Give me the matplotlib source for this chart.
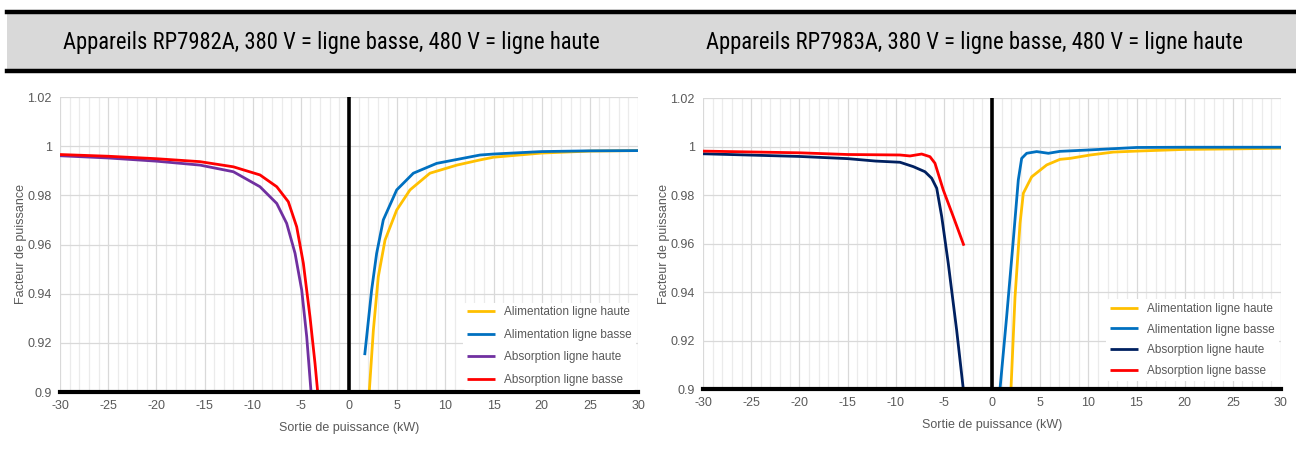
import numpy as np
from matplotlib import pyplot as plt
from matplotlib import font_manager
from matplotlib.patches import Rectangle
from matplotlib.lines import Line2D

# ---- data ----
titles = ["Appareils RP7982A, 380 V = ligne basse, 480 V = ligne haute",
          "Appareils RP7983A, 380 V = ligne basse, 480 V = ligne haute"]
labels = ["Alimentation ligne haute", "Alimentation ligne basse",
          "Absorption ligne haute", "Absorption ligne basse"]

# RP7982A
a_haute_x = [2.1, 2.53, 3.04, 3.74, 4.95, 6.33, 8.4, 11.2, 13.6, 15, 20, 25, 30]
a_haute_y = [0.900, 0.9252, 0.9469, 0.9618, 0.974, 0.9822, 0.9890, 0.9923, 0.9944, 0.9955, 0.9972, 0.9980, 0.9982]
a_basse_x = [1.63, 2.35, 2.87, 3.56, 4.95, 6.68, 9.1, 13.6, 15, 20, 25, 30]
a_basse_y = [0.9150, 0.9415, 0.9564, 0.9700, 0.9822, 0.9890, 0.9930, 0.9964, 0.9968, 0.9978, 0.9981, 0.9982]
b_haute_x = [-30, -25, -20, -15.47, -12.0, -9.24, -7.5, -6.47, -5.6, -4.91, -4.39, -3.94]
b_haute_y = [0.9961, 0.9952, 0.9939, 0.9923, 0.9896, 0.9835, 0.9767, 0.9686, 0.9564, 0.9415, 0.9225, 0.900]
b_basse_x = [-30, -25, -20, -15.47, -12.0, -9.24, -7.5, -6.3, -5.43, -4.74, -4.05, -3.53, -3.25]
b_basse_y = [0.9966, 0.9959, 0.9949, 0.9937, 0.9916, 0.9883, 0.9835, 0.9774, 0.9672, 0.9524, 0.9306, 0.9117, 0.900]

# RP7983A
c_haute_x = [1.97, 2.39, 2.91, 3.25, 4.12, 5.68, 7.06, 8.1, 10.2, 12.6, 15, 20, 25, 30]
c_haute_y = [0.900, 0.938, 0.9683, 0.9807, 0.9875, 0.9924, 0.9947, 0.9951, 0.9965, 0.9977, 0.9981, 0.9988, 0.9990, 0.9993]
c_basse_x = [0.83, 1.52, 2.21, 2.73, 3.08, 3.6, 4.64, 5.85, 7.06, 10.2, 15, 20, 30]
c_basse_y = [0.900, 0.9298, 0.9614, 0.9862, 0.9951, 0.9972, 0.9979, 0.9972, 0.9980, 0.9986, 0.9996, 0.9997, 0.9997]
d_haute_x = [-30, -20, -15, -12.1, -9.55, -8.17, -6.96, -6.26, -5.74, -5.22, -4.54, -3.67, -2.98]
d_haute_y = [0.9970, 0.9959, 0.9950, 0.9940, 0.9935, 0.9917, 0.9896, 0.9869, 0.9828, 0.9711, 0.9518, 0.9243, 0.900]
d_basse_x = [-30, -20, -15, -9.55, -8.51, -7.3, -6.44, -5.92, -5.06, -4.02, -2.91]
d_basse_y = [0.9981, 0.9974, 0.9967, 0.9965, 0.9961, 0.9969, 0.9958, 0.9931, 0.9821, 0.9711, 0.9591]

xticks = list(range(-30, 31, 5))
yticks = [0.9, 0.92, 0.94, 0.96, 0.98, 1.0, 1.02]
ytick_labels = ["0.9", "0.92", "0.94", "0.96", "0.98", "1", "1.02"]

yellow = "#FFC000"
blue = "#0070C0"
purple = "#7030A0"
red = "#FF0000"
navy = "#002060"
grey_txt = "#595959"

plt.rcParams['font.family'] = ['Liberation Sans', 'DejaVu Sans']
plt.rcParams['axes.unicode_minus'] = False

installed = {f.name for f in font_manager.fontManager.ttflist}
title_family = "DejaVu Sans"
for name in ["Liberation Sans Narrow", "DejaVu Sans Condensed", "Roboto Condensed", "Roboto"]:
    if name in installed:
        title_family = name
        break

fig = plt.figure(figsize=(12.96, 4.54), dpi=100)
W, H = 1296, 454

# header band
fig.patches.append(Rectangle((7 / W, 1 - 70 / H), 1 - 7 / W, 59 / H, transform=fig.transFigure,
                             facecolor="#D9D9D9", edgecolor="none", zorder=0))
for yy in (11.5, 70.5):
    fig.add_artist(Line2D([7 / W, 1], [1 - yy / H, 1 - yy / H], transform=fig.transFigure,
                          color="black", lw=3.2))

renderer = fig.canvas.get_renderer()
for cx, txt in [(331, titles[0]), (974, titles[1])]:
    t = fig.text(cx / W, 1 - 42 / H, txt, ha="center", va="center", fontsize=17,
                 family=[title_family, "DejaVu Sans"])
    w = t.get_window_extent(renderer).width
    t.set_fontsize(min(20, 17 * 538 / w))


def draw_panel(rect, series, leg_anchor, spacing):
    ax = fig.add_axes(rect)
    ax.set_xlim(-30, 30)
    ax.set_ylim(0.9, 1.02)
    for v in range(-30, 31):
        ax.axvline(v, color="#D9D9D9" if v % 5 == 0 else "#EBEBEB", lw=0.9, zorder=0)
    for v in yticks:
        ax.axhline(v, color="#D9D9D9", lw=0.9, zorder=0)
    for sp in ax.spines.values():
        sp.set_visible(False)
    for x, y, c, lab in series:
        ax.plot(x, y, color=c, lw=2, label=lab, solid_capstyle="butt", solid_joinstyle="round")
    ax.axvline(0, color="black", lw=2.6, zorder=3)
    ax.axhline(0.9, color="black", lw=3, zorder=3, clip_on=False)
    ax.set_xticks(xticks)
    ax.set_yticks(yticks)
    ax.set_yticklabels(ytick_labels)
    ax.tick_params(length=0, labelsize=9, colors=grey_txt, pad=6)
    ax.set_xlabel("Sortie de puissance (kW)", fontsize=9, color=grey_txt, labelpad=7)
    ax.set_ylabel("Facteur de puissance", fontsize=9, color=grey_txt, labelpad=0)
    leg = ax.legend(loc="lower right", bbox_to_anchor=leg_anchor, frameon=True, fontsize=8.5,
                    handlelength=2.4, handletextpad=0.8, labelspacing=spacing, borderpad=0.3,
                    borderaxespad=0.2)
    leg.get_frame().set_edgecolor("none")
    leg.get_frame().set_facecolor("white")
    leg.get_frame().set_alpha(1)
    for t in leg.get_texts():
        t.set_color(grey_txt)
    return ax


draw_panel([60 / W, 1 - 392 / H, 578 / W, 295 / H],
           [(a_haute_x, a_haute_y, yellow, labels[0]),
            (a_basse_x, a_basse_y, blue, labels[1]),
            (b_haute_x, b_haute_y, purple, labels[2]),
            (b_basse_x, b_basse_y, red, labels[3])],
           (1.0, 0.0), 0.9)
draw_panel([703 / W, 1 - 389 / H, 578 / W, 291 / H],
           [(c_haute_x, c_haute_y, yellow, labels[0]),
            (c_basse_x, c_basse_y, blue, labels[1]),
            (d_haute_x, d_haute_y, navy, labels[2]),
            (d_basse_x, d_basse_y, red, labels[3])],
           (1.0, 0.02), 0.75)

fig.savefig("out.png", dpi=100)
